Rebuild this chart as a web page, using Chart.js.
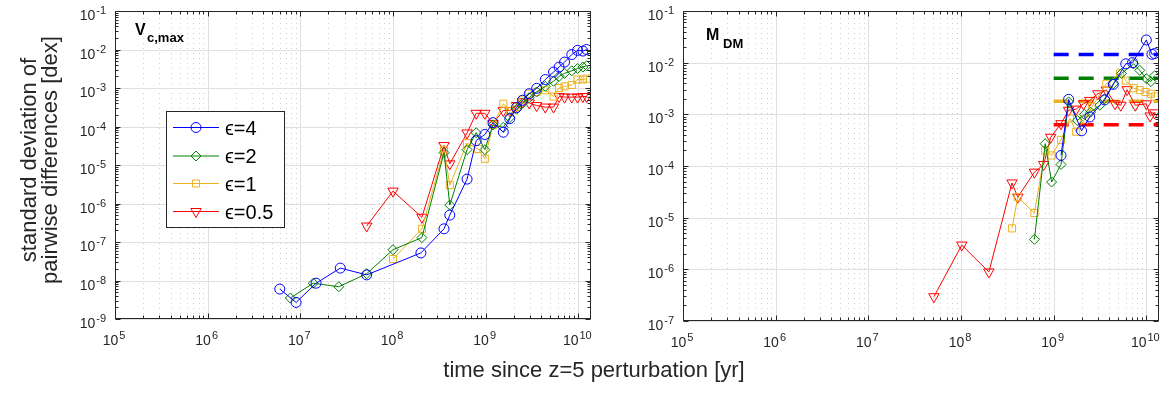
<!DOCTYPE html>
<html>
<head>
<meta charset="utf-8">
<script src="https://cdn.jsdelivr.net/npm/chart.js@4.4.0/dist/chart.umd.min.js"></script>
<style>
  html, body { margin: 0; padding: 0; background: #fff; }
  #wrap { position: relative; width: 1171px; height: 393px; overflow: hidden; }
  canvas { position: absolute; left: 0; top: 0; }
</style>
</head>
<body>
<div id="wrap">
  <canvas id="left" width="1171" height="393"></canvas>
  <canvas id="right" width="1171" height="393"></canvas>
</div>
<script>
// ---- Daten ----
// linkes Panel: V_c,max
const leftT_eps4 = [6.0e6, 9.0e6, 1.48e7, 2.7e7, 5.2e7, 2.0e8, 3.55e8, 4.1e8, 6.3e8, 7.9e8, 9.8e8, 1.2e9, 1.55e9, 1.82e9, 2.15e9, 2.5e9, 2.95e9, 3.55e9, 4.4e9, 5.4e9, 6.2e9, 7.1e9, 8.5e9, 9.8e9, 1.12e10, 1.23e10];
const leftV_eps4 = [6.0e-9, 2.7e-9, 8.5e-9, 2.1e-8, 1.4e-8, 5.2e-8, 2.2e-7, 5.0e-7, 4.3e-6, 4.3e-5, 6.2e-5, 1.26e-4, 7.1e-5, 1.6e-4, 3.1e-4, 4.8e-4, 7.1e-4, 9.8e-4, 1.66e-3, 2.6e-3, 3.5e-3, 4.7e-3, 7.4e-3, 9.5e-3, 9.1e-3, 1.0e-2];

const leftT_eps2 = [7.8e6, 1.38e7, 2.6e7, 5.2e7, 1.0e8, 2.05e8, 3.55e8, 4.1e8, 6.3e8, 7.9e8, 9.8e8, 1.2e9, 1.55e9, 1.82e9, 2.15e9, 2.5e9, 2.95e9, 3.55e9, 4.4e9, 5.4e9, 6.2e9, 7.1e9, 8.5e9, 9.8e9, 1.12e10, 1.23e10];
const leftV_eps2 = [3.5e-9, 8.5e-9, 6.9e-9, 1.5e-8, 6.3e-8, 1.3e-7, 2.1e-5, 9.1e-7, 2.5e-5, 6.9e-5, 2.5e-5, 1.1e-4, 9.5e-5, 1.7e-4, 2.8e-4, 4.0e-4, 5.6e-4, 7.9e-4, 1.1e-3, 1.5e-3, 2.0e-3, 2.4e-3, 2.8e-3, 3.2e-3, 3.5e-3, 3.8e-3];

const leftT_eps1 = [1.0e8, 2.05e8, 3.55e8, 4.1e8, 6.3e8, 8.3e8, 9.8e8, 1.2e9, 1.55e9, 1.82e9, 2.15e9, 2.5e9, 2.95e9, 3.55e9, 4.4e9, 5.4e9, 6.2e9, 7.1e9, 8.5e9, 9.8e9, 1.12e10, 1.23e10];
const leftV_eps1 = [3.6e-8, 2.2e-7, 2.5e-5, 3.0e-6, 3.7e-5, 2.6e-5, 1.45e-5, 1.1e-4, 3.9e-4, 2.5e-4, 3.2e-4, 5.0e-4, 7.1e-4, 7.9e-4, 8.7e-4, 6.0e-4, 1.0e-3, 1.1e-3, 1.2e-3, 1.66e-3, 1.66e-3, 1.75e-3];

const leftT_eps05 = [5.2e7, 1.0e8, 2.05e8, 3.55e8, 4.1e8, 6.3e8, 7.9e8, 9.8e8, 1.2e9, 1.55e9, 1.82e9, 2.15e9, 2.5e9, 2.95e9, 3.55e9, 4.4e9, 5.4e9, 6.2e9, 7.1e9, 8.5e9, 9.8e9, 1.12e10, 1.23e10];
const leftV_eps05 = [2.6e-7, 2.1e-6, 4.4e-7, 3.2e-5, 1.07e-5, 6.8e-5, 2.2e-4, 2.2e-4, 1.2e-4, 2.6e-4, 2.6e-4, 3.5e-4, 4.4e-4, 4.1e-4, 3.5e-4, 3.2e-4, 3.2e-4, 6.0e-4, 5.8e-4, 5.8e-4, 5.8e-4, 6.0e-4, 6.0e-4];

// rechtes Panel: M_DM
const rightT_eps4 = [1.2e9, 1.45e9, 2.0e9, 2.45e9, 3.55e9, 4.4e9, 6.0e9, 7.1e9, 1.0e10, 1.15e10, 1.23e10];
const rightV_eps4 = [1.6e-4, 1.95e-3, 4.8e-4, 8.9e-4, 1.9e-3, 3.8e-3, 9.5e-3, 1.0e-2, 2.75e-2, 1.45e-2, 1.5e-2];

const rightT_eps2 = [6.2e8, 8.1e8, 9.5e8, 1.2e9, 1.45e9, 1.8e9, 2.15e9, 2.5e9, 3.15e9, 3.55e9, 4.4e9, 5.4e9, 7.3e9, 8.5e9, 1.0e10, 1.12e10, 1.23e10];
const rightV_eps2 = [3.8e-6, 2.7e-4, 4.9e-5, 1.07e-4, 1.74e-3, 7.6e-4, 1.0e-3, 1.1e-3, 1.5e-3, 2.0e-3, 3.9e-3, 6.2e-3, 9.5e-3, 7.1e-3, 4.9e-3, 4.3e-3, 5.6e-3];

const rightT_eps1 = [3.55e8, 4.1e8, 6.2e8, 8.1e8, 9.5e8, 1.2e9, 1.5e9, 1.75e9, 2.15e9, 2.6e9, 3.7e9, 5.2e9, 6.0e9, 7.3e9, 8.5e9, 9.8e9, 1.12e10, 1.23e10];
const rightV_eps1 = [6.2e-6, 2.5e-5, 1.23e-5, 2.0e-4, 1.6e-4, 3.2e-4, 8.3e-4, 4.6e-4, 7.9e-4, 1.4e-3, 3.9e-3, 6.2e-3, 4.5e-3, 3.2e-3, 2.95e-3, 2.7e-3, 2.5e-3, 2.2e-3];

const rightT_eps05 = [5.1e7, 1.02e8, 2.0e8, 3.55e8, 4.1e8, 6.2e8, 7.8e8, 9.3e8, 1.2e9, 1.45e9, 1.75e9, 2.1e9, 2.45e9, 3.0e9, 3.7e9, 4.6e9, 5.3e9, 6.2e9, 7.6e9, 1.0e10, 1.1e10, 1.23e10];
const rightV_eps05 = [2.95e-7, 2.95e-6, 8.9e-7, 4.7e-5, 2.5e-5, 7.6e-5, 1.07e-4, 3.6e-4, 6.6e-4, 1.2e-3, 1.26e-3, 1.6e-3, 1.86e-3, 2.5e-3, 2.95e-3, 1.6e-3, 1.5e-3, 3.0e-3, 1.5e-3, 1.6e-3, 9.3e-4, 1.07e-3];

// gestrichelte Referenzniveaus (rechts), gelten ab t = 1e9
const refLevels = [1.44e-2, 5.0e-3, 1.8e-3, 6.3e-4];
const refStart = 1e9;

// Achsen
const xMin = 1e5, xMax = 1.37e10;
const xTickExps = [5, 6, 7, 8, 9, 10];
const yTickExpsLeft = [-9, -8, -7, -6, -5, -4, -3, -2, -1];
const yTickExpsRight = [-7, -6, -5, -4, -3, -2, -1];
const legendLabels = ['\u03f5=4', '\u03f5=2', '\u03f5=1', '\u03f5=0.5'];

// Stil
const colors = ['#0000ff', '#008000', '#edb120', '#ff0000'];
const markers = [
  { pointStyle: 'circle', radius: 5, rotation: 0 },
  { pointStyle: 'rectRot', radius: 5, rotation: 0 },
  { pointStyle: 'rect', radius: 5, rotation: 0 },
  { pointStyle: 'triangle', radius: 6, rotation: 180 }
];
const FONT = '"Liberation Sans", Arial, Helvetica, sans-serif';

function toPoints(ts, vs) {
  return ts.map((t, i) => ({ x: t, y: vs[i] }));
}

function seriesDataset(i, ts, vs) {
  return {
    data: toPoints(ts, vs),
    borderColor: colors[i],
    borderWidth: 1,
    pointStyle: markers[i].pointStyle,
    pointRadius: markers[i].radius,
    pointRotation: markers[i].rotation,
    pointBorderColor: colors[i],
    pointBackgroundColor: 'rgba(0,0,0,0)',
    pointBorderWidth: 1,
    tension: 0,
    fill: false,
    order: i   // rot oben, blau unten
  };
}

function refDataset(i) {
  return {
    data: [{ x: refStart, y: refLevels[i] }, { x: xMax, y: refLevels[i] }],
    borderColor: colors[i],
    borderWidth: 3.5,
    borderDash: [15, 10],
    borderCapStyle: 'butt',
    pointRadius: 0,
    fill: false,
    order: 10 + i
  };
}

// Log-Ticks 1..9 je Dekade
function logTicks(loExp, hiExp, maxVal) {
  const out = [];
  for (let e = loExp; e <= hiExp; e++) {
    for (let f = 1; f <= 9; f++) {
      const v = f * Math.pow(10, e);
      if (v > maxVal * 1.0001) break;
      out.push({ v: v, major: f === 1, e: e });
    }
  }
  return out;
}

// "10" mit hochgestelltem Exponent
function drawPow(ctx, exp, x, y, align) {
  ctx.font = '14px ' + FONT;
  const wBase = ctx.measureText('10').width;
  ctx.font = '11px ' + FONT;
  const expStr = String(exp);
  const wExp = ctx.measureText(expStr).width;
  const total = wBase + 1 + wExp;
  let x0 = x;
  if (align === 'right') x0 = x - total;
  else if (align === 'center') x0 = x - total / 2;
  ctx.textAlign = 'left';
  ctx.textBaseline = 'alphabetic';
  ctx.fillStyle = '#262626';
  ctx.font = '14px ' + FONT;
  ctx.fillText('10', x0, y);
  ctx.font = '11px ' + FONT;
  ctx.fillText(expStr, x0 + wBase + 1, y - 6);
}

function drawMarker(ctx, i, x, y) {
  if (Chart.helpers && Chart.helpers.drawPoint) {
    ctx.strokeStyle = colors[i];
    ctx.fillStyle = 'rgba(0,0,0,0)';
    ctx.lineWidth = 1;
    Chart.helpers.drawPoint(ctx, {
      pointStyle: markers[i].pointStyle,
      radius: markers[i].radius,
      rotation: markers[i].rotation,
      borderWidth: 1
    }, x, y);
  }
}

function axesPlugin(yExps, extra) {
  const yMinExp = yExps[0], yMaxExp = yExps[yExps.length - 1];
  return {
    id: 'matlabAxes',
    beforeDatasetsDraw(chart) {
      const { ctx, chartArea: a, scales } = chart;
      const xs = scales.x, ys = scales.y;
      const xt = logTicks(5, 10, xMax);
      ctx.save();
      ctx.lineWidth = 1;
      // kleine gepunktete Gitterlinien (nur x)
      ctx.strokeStyle = '#cdcdcd';
      ctx.setLineDash([1, 4]);
      xt.forEach(t => {
        if (t.major) return;
        const px = Math.round(xs.getPixelForValue(t.v)) + 0.5;
        ctx.beginPath(); ctx.moveTo(px, a.top + 2); ctx.lineTo(px, a.bottom); ctx.stroke();
      });
      // Hauptgitter
      ctx.setLineDash([]);
      ctx.strokeStyle = '#e0e0e0';
      xt.forEach(t => {
        if (!t.major) return;
        const px = Math.round(xs.getPixelForValue(t.v)) + 0.5;
        ctx.beginPath(); ctx.moveTo(px, a.top); ctx.lineTo(px, a.bottom); ctx.stroke();
      });
      yExps.forEach(e => {
        const py = Math.round(ys.getPixelForValue(Math.pow(10, e))) + 0.5;
        ctx.beginPath(); ctx.moveTo(a.left, py); ctx.lineTo(a.right, py); ctx.stroke();
      });
      ctx.restore();
    },
    afterDatasetsDraw(chart) {
      const { ctx, chartArea: a, scales } = chart;
      const xs = scales.x, ys = scales.y;
      const L = Math.round(a.left) + 0.5, R = Math.round(a.right) - 0.5;
      const T = Math.round(a.top) + 0.5, B = Math.round(a.bottom) - 0.5;
      ctx.save();
      ctx.strokeStyle = '#262626';
      ctx.lineWidth = 1;
      ctx.setLineDash([]);
      ctx.strokeRect(L, T, R - L, B - T);
      // Ticks x (innen, oben und unten)
      logTicks(5, 10, xMax).forEach(t => {
        const px = Math.round(xs.getPixelForValue(t.v)) + 0.5;
        const len = t.major ? 5 : 3;
        ctx.beginPath();
        ctx.moveTo(px, B); ctx.lineTo(px, B - len);
        ctx.moveTo(px, T); ctx.lineTo(px, T + len);
        ctx.stroke();
      });
      // Ticks y
      logTicks(yMinExp, yMaxExp, Math.pow(10, yMaxExp)).forEach(t => {
        const py = Math.round(ys.getPixelForValue(t.v)) + 0.5;
        const len = t.major ? 5 : 3;
        ctx.beginPath();
        ctx.moveTo(L, py); ctx.lineTo(L + len, py);
        ctx.moveTo(R, py); ctx.lineTo(R - len, py);
        ctx.stroke();
      });
      // Beschriftungen
      xTickExps.forEach(e => {
        drawPow(ctx, e, xs.getPixelForValue(Math.pow(10, e)) - 1, a.bottom + 26, 'center');
      });
      yExps.forEach(e => {
        drawPow(ctx, e, a.left - 9, ys.getPixelForValue(Math.pow(10, e)) + 9, 'right');
      });
      extra(ctx, a);
      ctx.restore();
    }
  };
}

function drawLeftExtras(ctx, a) {
  // Panel-Titel
  ctx.fillStyle = '#000';
  ctx.textAlign = 'left';
  ctx.textBaseline = 'alphabetic';
  ctx.font = 'bold 16px ' + FONT;
  ctx.fillText('V', 135, 35);
  ctx.font = 'bold 13px ' + FONT;
  ctx.fillText('c,max', 147, 42);

  // Legende
  const bx = 166.5, by = 111.5, bw = 118, bh = 116;
  ctx.fillStyle = '#fff';
  ctx.fillRect(bx, by, bw, bh);
  ctx.strokeStyle = '#262626';
  ctx.lineWidth = 1;
  ctx.strokeRect(bx, by, bw, bh);
  const rowY = [127.5, 156, 183.5, 211.5];
  legendLabels.forEach((lab, i) => {
    const y = rowY[i];
    ctx.strokeStyle = colors[i];
    ctx.lineWidth = 1;
    ctx.beginPath(); ctx.moveTo(173, y); ctx.lineTo(219, y); ctx.stroke();
    drawMarker(ctx, i, 196, y);
    ctx.fillStyle = '#000';
    ctx.font = '20px ' + FONT;
    ctx.textAlign = 'left';
    ctx.fillText(lab, 225, y + 7);
  });

  // y-Achsentitel (zweizeilig)
  ctx.save();
  ctx.fillStyle = '#262626';
  ctx.font = '22px ' + FONT;
  ctx.textAlign = 'center';
  ctx.translate(36, 160);
  ctx.rotate(-Math.PI / 2);
  ctx.fillText('standard deviation of', 0, 0);
  ctx.fillText('pairwise differences [dex]', 0, 21);
  ctx.restore();

  // x-Achsentitel (gemeinsam)
  ctx.fillStyle = '#262626';
  ctx.font = '22px ' + FONT;
  ctx.textAlign = 'center';
  ctx.fillText('time since z=5 perturbation [yr]', 594, 377);
}

function drawRightExtras(ctx, a) {
  ctx.fillStyle = '#000';
  ctx.textAlign = 'left';
  ctx.textBaseline = 'alphabetic';
  ctx.font = 'bold 16px ' + FONT;
  ctx.fillText('M', 706, 40);
  ctx.font = 'bold 13px ' + FONT;
  ctx.fillText('DM', 723, 48);
}

function baseOptions(pad, yMin) {
  return {
    responsive: false,
    animation: false,
    events: [],
    layout: { padding: pad },
    plugins: { legend: { display: false }, tooltip: { enabled: false } },
    scales: {
      x: { type: 'logarithmic', min: xMin, max: xMax, display: false },
      y: { type: 'logarithmic', min: yMin, max: 1e-1, display: false }
    }
  };
}

new Chart(document.getElementById('left'), {
  type: 'line',
  data: {
    datasets: [
      seriesDataset(0, leftT_eps4, leftV_eps4),
      seriesDataset(1, leftT_eps2, leftV_eps2),
      seriesDataset(2, leftT_eps1, leftV_eps1),
      seriesDataset(3, leftT_eps05, leftV_eps05)
    ]
  },
  options: baseOptions({ left: 115, right: 1171 - 591, top: 11, bottom: 393 - 319 }, 1e-9),
  plugins: [axesPlugin(yTickExpsLeft, drawLeftExtras)]
});

new Chart(document.getElementById('right'), {
  type: 'line',
  data: {
    datasets: [
      refDataset(0), refDataset(1), refDataset(2), refDataset(3),
      seriesDataset(0, rightT_eps4, rightV_eps4),
      seriesDataset(1, rightT_eps2, rightV_eps2),
      seriesDataset(2, rightT_eps1, rightV_eps1),
      seriesDataset(3, rightT_eps05, rightV_eps05)
    ]
  },
  options: baseOptions({ left: 683, right: 1171 - 1159, top: 11, bottom: 393 - 321 }, 1e-7),
  plugins: [axesPlugin(yTickExpsRight, drawRightExtras)]
});
</script>
</body>
</html>
